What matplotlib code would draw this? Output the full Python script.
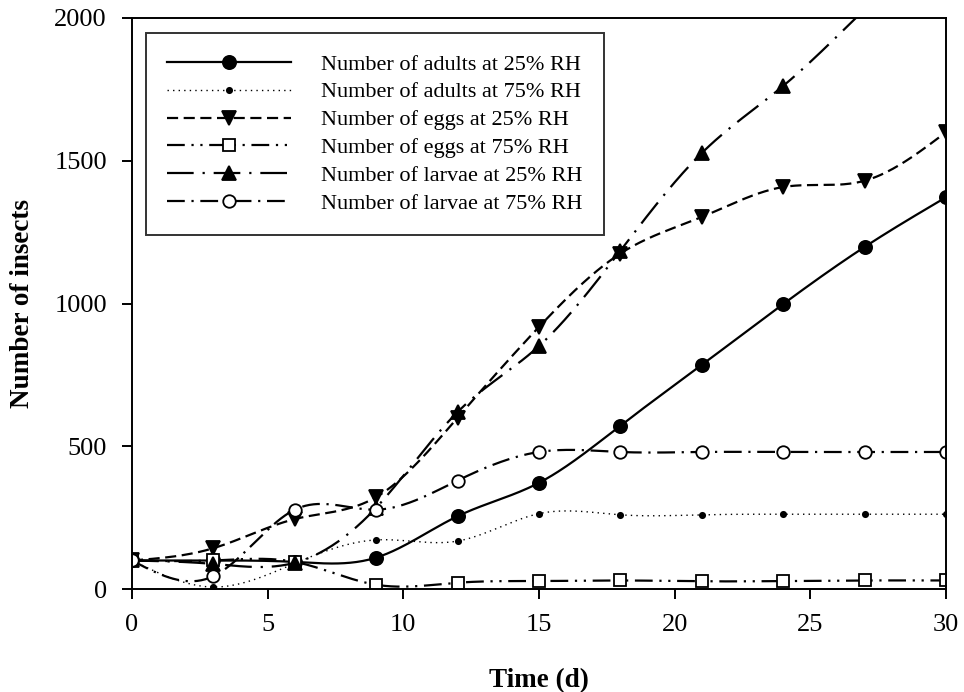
import numpy as np
import matplotlib
matplotlib.use("Agg")
import matplotlib.pyplot as plt

plt.rcParams['font.family'] = ['Liberation Serif', 'DejaVu Serif']

# data
days = [0, 3, 6, 9, 12, 15, 18, 21, 24, 27, 30]
adults_25 = [100, 100, 95, 110, 255, 372, 572, 785, 998, 1198, 1372]
adults_75 = [100, 7, 90, 172, 168, 264, 260, 260, 262, 262, 262]
eggs_25 = [100, 143, 245, 322, 600, 918, 1175, 1303, 1408, 1430, 1600]
eggs_75 = [100, 100, 95, 15, 22, 28, 30, 27, 28, 30, 30]
larvae_25 = [100, 88, 92, 285, 620, 851, 1185, 1527, 1762, 2030, 2300]
larvae_75 = [100, 45, 278, 278, 380, 480, 480, 480, 480, 480, 480]

labels = ['Number of adults at 25% RH', 'Number of adults at 75% RH',
          'Number of eggs at 25% RH', 'Number of eggs at 75% RH',
          'Number of larvae at 25% RH', 'Number of larvae at 75% RH']


def smooth(x, y, n=400):
    # natural cubic spline through the points, for the connecting line only
    x = np.asarray(x, float)
    y = np.asarray(y, float)
    h = np.diff(x)
    k = len(x)
    A = np.zeros((k, k))
    b = np.zeros(k)
    A[0, 0] = A[-1, -1] = 1
    for i in range(1, k - 1):
        A[i, i - 1] = h[i - 1]
        A[i, i] = 2 * (h[i - 1] + h[i])
        A[i, i + 1] = h[i]
        b[i] = 6 * ((y[i + 1] - y[i]) / h[i] - (y[i] - y[i - 1]) / h[i - 1])
    M = np.linalg.solve(A, b)
    xs = np.linspace(x[0], x[-1], n)
    idx = np.clip(np.searchsorted(x, xs) - 1, 0, k - 2)
    x0, x1 = x[idx], x[idx + 1]
    hh = x1 - x0
    t0 = x1 - xs
    t1 = xs - x0
    ys = (M[idx] * t0 ** 3 / (6 * hh) + M[idx + 1] * t1 ** 3 / (6 * hh)
          + (y[idx] / hh - M[idx] * hh / 6) * t0
          + (y[idx + 1] / hh - M[idx + 1] * hh / 6) * t1)
    return xs, ys


series = [adults_25, adults_75, eggs_25, eggs_75, larvae_25, larvae_75]
styles = [
    dict(ls='-', lw=1.6, marker='o', ms=9.5, mfc='black'),
    dict(ls=(0, (1, 3)), lw=1.0, marker='o', ms=3.8, mfc='black'),
    dict(ls=(0, (5, 2.5)), lw=1.6, marker='v', ms=10, mfc='black'),
    dict(ls=(0, (8, 3, 1, 3, 1, 3)), lw=1.6, marker='s', ms=9, mfc='white'),
    dict(ls=(0, (12, 4, 1, 4)), lw=1.6, marker='^', ms=10, mfc='black'),
    dict(ls=(0, (8, 3, 1, 3)), lw=1.6, marker='o', ms=9, mfc='white'),
]

fig = plt.figure(figsize=(9.64, 6.92), dpi=100)
ax = fig.add_axes([0.1369, 0.1488, 0.8444, 0.8252])

for vals, st, lab in zip(series, styles, labels):
    xs, ys = smooth(days, vals)
    ax.plot(xs, ys, color='black', ls=st['ls'], lw=st['lw'])
    ax.plot(days, vals, ls='none', marker=st['marker'], ms=st['ms'],
            mfc=st['mfc'], mec='black', mew=1.3)
    # legend proxy
    ax.plot([], [], color='black', ls=st['ls'], lw=st['lw'], marker=st['marker'],
            ms=st['ms'], mfc=st['mfc'], mec='black', mew=1.3, label=lab)

ax.set_xlim(0, 30)
ax.set_ylim(0, 2000)
ax.set_xticks([0, 5, 10, 15, 20, 25, 30])
ax.set_yticks([0, 500, 1000, 1500, 2000])
ax.tick_params(direction='out', length=7, width=1.4, labelsize=19, pad=11)
for s in ax.spines.values():
    s.set_linewidth(1.4)

ax.set_xlabel('Time (d)', fontsize=19.5, fontweight='bold', labelpad=23)
ax.set_ylabel('Number of insects', fontsize=19.5, fontweight='bold', labelpad=14)

leg = ax.legend(loc='upper left', bbox_to_anchor=(0.017, 0.974), borderaxespad=0,
                fontsize=16, handlelength=5.6, handletextpad=1.35, labelspacing=0.33,
                borderpad=0.95, fancybox=False, edgecolor='black', numpoints=1)
leg.get_frame().set_linewidth(1.4)

fig.savefig('out.png', dpi=100)
